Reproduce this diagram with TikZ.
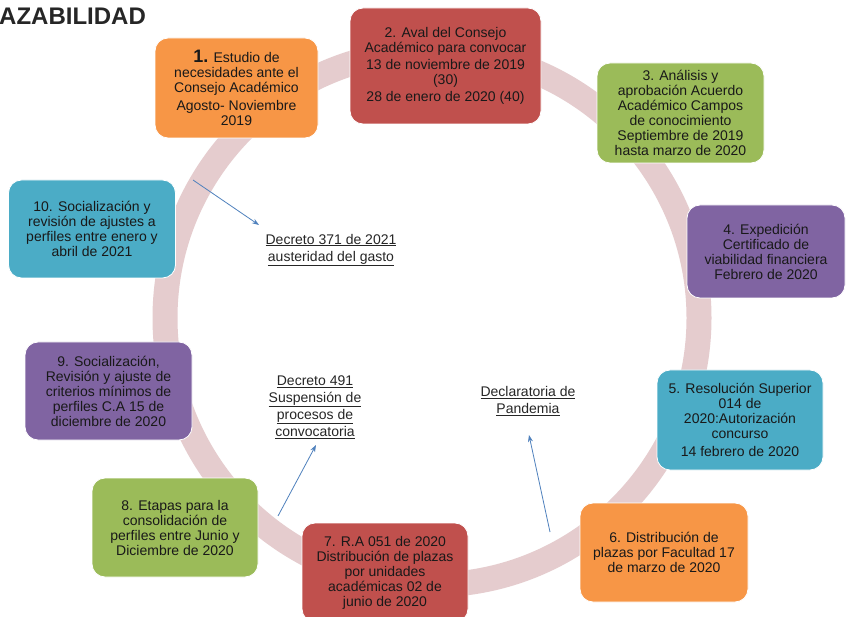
\documentclass[tikz,border=0pt]{standalone}
\usepackage{fontspec}
\setmainfont{Liberation Sans}
\usetikzlibrary{arrows.meta}
\definecolor{ringc}{HTML}{E5CCCE}
\definecolor{corange}{HTML}{F79646}
\definecolor{cred}{HTML}{C0504D}
\definecolor{cgreen}{HTML}{9BBB59}
\definecolor{cpurple}{HTML}{8064A2}
\definecolor{cteal}{HTML}{4BACC6}
\definecolor{carrow}{HTML}{4F81BD}
\tikzset{
  stagebox/.style={draw=white, line width=0.8pt, rounded corners=13pt, inner sep=0pt, align=center,
    font=\fontsize{14}{15}\selectfont, text=black!90},
  eventlabel/.style={align=center, inner sep=0pt, font=\fontsize{14}{17}\selectfont, text=black!85},
  eventarrow/.style={draw=carrow, line width=0.8pt, -{Stealth[length=7pt,width=5pt]}},
}
\begin{document}
\begin{tikzpicture}[x=1pt,y=-1pt]
\useasboundingbox (0,0) rectangle (846,617);
\fill[white] (0,0) rectangle (846,617);
% ring
\draw[ringc, line width=25pt] (432,318) circle[radius=267];
% title
\node[anchor=base west, inner sep=0pt, font=\fontsize{24}{24}\selectfont\bfseries, text=black!85] (title) at (-1,25) {AZABILIDAD};
% boxes
\node[stagebox, fill=corange, minimum width=163pt, minimum height=100pt] (s1) at (236.5,88)
  {{\fontsize{18}{15}\selectfont\bfseries 1.} Estudio de\\necesidades ante el\\Consejo Académico\\[3pt]Agosto- Noviembre\\2019};
\node[stagebox, fill=cred, minimum width=191pt, minimum height=116pt] (s2) at (445.5,66)
  {2. Aval del Consejo\\Académico para convocar\\[2pt]13 de noviembre de 2019\\(30)\\[2pt]28 de enero de 2020 (40)};
\node[stagebox, fill=cgreen, minimum width=167pt, minimum height=100pt] (s3) at (680.5,113)
  {3. Análisis y\\aprobación Acuerdo\\Académico Campos\\de conocimiento\\Septiembre de 2019\\hasta marzo de 2020};
\node[stagebox, fill=cpurple, minimum width=158pt, minimum height=93pt] (s4) at (766,251.5)
  {4. Expedición\\Certificado de\\viabilidad financiera\\Febrero de 2020};
\node[stagebox, fill=cteal, minimum width=166pt, minimum height=100pt] (s5) at (740,420)
  {5. Resolución Superior\\014 de\\2020:Autorización\\concurso\\[3pt]14 febrero de 2020};
\node[stagebox, fill=corange, minimum width=168pt, minimum height=99pt] (s6) at (664,552.5)
  {6. Distribución de\\plazas por Facultad 17\\de marzo de 2020};
\node[stagebox, fill=cred, minimum width=166pt, minimum height=99pt] (s7) at (385,572.5)
  {7. R.A 051 de 2020\\Distribución de plazas\\por unidades\\académicas 02 de\\junio de 2020};
\node[stagebox, fill=cgreen, minimum width=166pt, minimum height=99pt] (s8) at (175,527.5)
  {8. Etapas para la\\consolidación de\\perfiles entre Junio y\\Diciembre de 2020};
\node[stagebox, fill=cpurple, minimum width=167pt, minimum height=98pt] (s9) at (108.5,391)
  {9. Socialización,\\Revisión y ajuste de\\criterios mínimos de\\perfiles C.A 15 de\\diciembre de 2020};
\node[stagebox, fill=cteal, minimum width=167pt, minimum height=98pt] (s10) at (92,229)
  {10. Socialización y\\revisión de ajustes a\\perfiles entre enero y\\abril de 2021};
% labels
\node[eventlabel] (d371) at (331,250) {\underline{Decreto 371 de 2021}\\\underline{austeridad del gasto}};
\node[eventlabel] (d491) at (315,407) {\underline{Decreto 491}\\\underline{Suspensión de}\\\underline{procesos de}\\\underline{convocatoria}};
\node[eventlabel] (pand) at (528,401) {\underline{Declaratoria de}\\\underline{Pandemia}};
% arrows
\coordinate (a1s) at (193,180);
\coordinate (a1e) at (259,225);
\coordinate (a2s) at (278,516);
\coordinate (a2e) at (316,445);
\coordinate (a3s) at (550,532);
\coordinate (a3e) at (529,435);
\draw[eventarrow] (a1s) -- (a1e);
\draw[eventarrow] (a2s) -- (a2e);
\draw[eventarrow] (a3s) -- (a3e);
\end{tikzpicture}
\end{document}
